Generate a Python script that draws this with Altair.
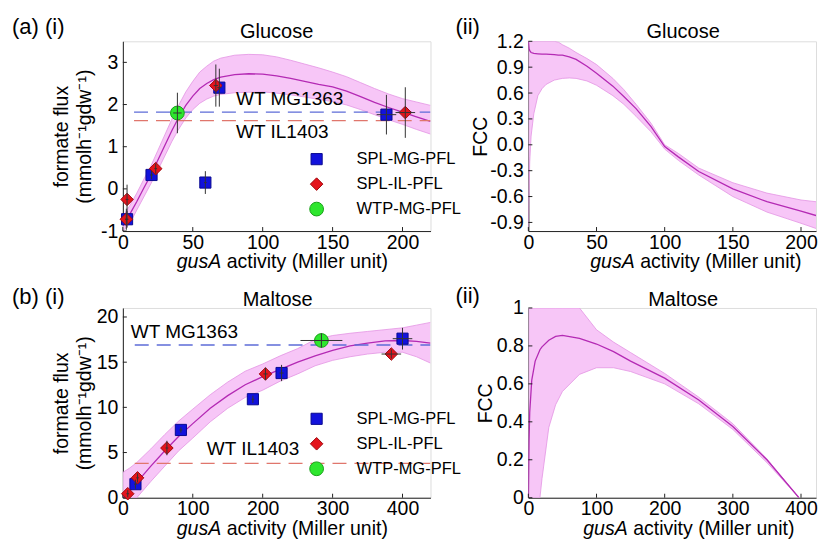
import altair as alt
import pandas as pd

FONT = "Liberation Sans"
BLUE, RED, GREEN = "#1212dc", "#e4141c", "#2ee62e"
BLUE_EDGE, RED_EDGE, GREEN_EDGE = "#0a0a90", "#a00a10", "#18a018"
BAND, BAND_EDGE, FIT = "#f6c0f6", "#e394e3", "#b42ab4"
REF_BLUE, REF_RED = "#5d6cd8", "#e0766c"
SERIES = ["SPL-MG-PFL", "SPL-IL-PFL", "WTP-MG-PFL"]

# ---------------- Glucose: formate flux fit ----------------
glc_x = [0, 5, 10, 15, 20, 25, 30, 35, 40, 45, 50, 55, 60, 65, 70, 80, 90, 100,
         110, 120, 130, 140, 150, 160, 170, 180, 190, 200, 210, 220]
glc_fit = [-0.88, -0.6, -0.3, 0.02, 0.33, 0.68, 1.03, 1.38, 1.7, 1.98, 2.2, 2.38,
           2.5, 2.59, 2.65, 2.71, 2.73, 2.72, 2.68, 2.62, 2.55, 2.48, 2.42, 2.32,
           2.19, 2.05, 1.93, 1.82, 1.71, 1.6]
glc_hi = [-0.66, -0.39, -0.1, 0.23, 0.54, 0.91, 1.28, 1.65, 1.99, 2.3, 2.55, 2.77,
          2.91, 3.03, 3.1, 3.17, 3.19, 3.18, 3.13, 3.05, 2.96, 2.87, 2.77, 2.66,
          2.52, 2.38, 2.25, 2.14, 2.06, 1.98]
glc_lo = [-1.0, -0.82, -0.5, -0.19, 0.12, 0.44, 0.78, 1.12, 1.42, 1.68, 1.88, 2.03,
          2.13, 2.2, 2.24, 2.28, 2.29, 2.3, 2.27, 2.23, 2.18, 2.12, 2.07, 1.99,
          1.88, 1.76, 1.64, 1.53, 1.41, 1.3]

# Glucose measured points
glc_series = ["SPL-MG-PFL"] * 5 + ["SPL-IL-PFL"] * 5 + ["WTP-MG-PFL"]
glc_px = [3, 20.5, 59, 69, 188.5, 2.5, 3, 23.5, 66.5, 202, 39]
glc_py = [-0.72, 0.33, 0.15, 2.40, 1.76, -0.72, -0.25, 0.48, 2.45, 1.81, 1.80]
glc_xerr = [1, 1, 1, 1.5, 7, 1, 1, 1, 1.5, 7, 3]
glc_yerr = [0.2, 0.1, 0.27, 0.45, 0.47, 0.25, 0.35, 0.12, 0.5, 0.6, 0.48]

# Glucose wild-type reference fluxes
glc_ref_names = ["WT MG1363", "WT IL1403"]
glc_ref_val = [1.82, 1.62]
glc_ref_x0 = [8, 8]
glc_ref_x1 = [220, 220]
glc_lab_x = [81, 81]
glc_lab_y = [2.0, 1.2]

# ---------------- Glucose: FCC ----------------
gfcc_x = [0, 0.5, 1, 2, 4, 7, 10, 13, 19, 22, 25, 30, 35, 43, 50, 62, 70, 79, 90,
          100, 110, 125, 150, 175, 200, 211]
gfcc_fit = [1.2, 1.12, 1.09, 1.07, 1.06, 1.055, 1.05, 1.05, 1.045, 1.04, 1.04, 1.02,
            0.99, 0.91, 0.83, 0.68, 0.56, 0.42, 0.21, -0.02, -0.14, -0.31, -0.51,
            -0.66, -0.77, -0.82]
gfcc_hi = [1.2, 1.2, 1.2, 1.2, 1.2, 1.2, 1.2, 1.2, 1.2, 1.19, 1.16, 1.12, 1.07,
           1.0, 0.93, 0.77, 0.64, 0.47, 0.25, 0.0, -0.1, -0.27, -0.44, -0.56,
           -0.64, -0.66]
gfcc_lo = [-1.0, -0.6, -0.2, 0.1, 0.36, 0.57, 0.65, 0.7, 0.75, 0.76, 0.77, 0.775,
           0.77, 0.74, 0.69, 0.57, 0.47, 0.33, 0.15, -0.05, -0.18, -0.35, -0.6,
           -0.78, -0.91, -0.97]

# ---------------- Maltose: formate flux fit ----------------
mal_x = [0, 10, 20, 40, 60, 80, 100, 125, 150, 175, 200, 225, 250, 275, 300, 325,
         350, 375, 400, 420, 440]
mal_fit = [0.0, 0.8, 1.7, 3.5, 5.2, 6.8, 8.2, 9.9, 11.3, 12.5, 13.4, 14.2, 15.0,
           15.7, 16.3, 16.8, 17.1, 17.35, 17.4, 17.3, 17.1]
mal_hi = [2.8, 3.3, 3.9, 5.4, 7.0, 8.5, 9.8, 11.4, 12.8, 14.0, 14.8, 15.7, 16.5,
          17.5, 17.95, 18.2, 18.4, 18.6, 18.8, 19.1, 19.4]
mal_lo = [0.0, 0.0, 0.0, 1.8, 3.5, 5.2, 6.6, 8.4, 9.9, 11.1, 11.9, 12.9, 13.7,
          14.6, 15.2, 15.6, 15.9, 16.1, 16.1, 15.6, 14.9]

mal_series = ["SPL-MG-PFL"] * 5 + ["SPL-IL-PFL"] * 5 + ["WTP-MG-PFL"]
mal_px = [18, 83, 186, 227, 400, 7, 21, 63, 204, 384, 284]
mal_py = [1.5, 7.5, 10.9, 13.8, 17.6, 0.44, 2.2, 5.5, 13.7, 15.9, 17.4]
mal_xerr = [2, 2, 2, 3, 14, 2, 2, 2, 3, 14, 30]
mal_yerr = [0.5, 0.3, 0.4, 0.9, 1.2, 0.4, 0.5, 0.8, 0.7, 0.5, 0.8]

mal_ref_names = ["WT MG1363", "WT IL1403"]
mal_ref_val = [16.9, 3.8]
mal_ref_x0 = [17, 17]
mal_ref_x1 = [440, 440]
mal_lab_x = [11.4, 120]
mal_lab_y = [17.7, 4.75]

# ---------------- Maltose: FCC ----------------
mfcc_x = [0, 1, 2, 5, 10, 17, 20, 30, 40, 50, 75, 100, 125, 150, 200, 250, 300,
          350, 397]
mfcc_fit = [0.0, 0.3, 0.45, 0.62, 0.72, 0.78, 0.795, 0.83, 0.85, 0.855, 0.84, 0.81,
            0.77, 0.72, 0.63, 0.515, 0.375, 0.2, 0.0]
mfcc_hi = [1.0, 1.0, 1.0, 1.0, 1.0, 1.0, 1.0, 1.0, 1.0, 1.0, 1.0, 0.885,
           0.82, 0.765, 0.655, 0.53, 0.39, 0.205, 0.0]
mfcc_lo = [0.0, 0.0, 0.0, 0.0, 0.0, 0.0, 0.1, 0.37, 0.49, 0.56, 0.65, 0.685,
           0.685, 0.665, 0.6, 0.495, 0.36, 0.185, 0.0]

# ---------------- tick values ----------------
glc_xticks = [0, 50, 100, 150, 200]
glc_yticks = [-1, 0, 1, 2, 3]
gfcc_yticks = [-0.9, -0.6, -0.3, 0, 0.3, 0.6, 0.9, 1.2]
mal_xticks = [0, 100, 200, 300, 400]
mal_yticks = [0, 5, 10, 15, 20]
mfcc_yticks = [0, 0.2, 0.4, 0.6, 0.8, 1]

FLUX_TITLE = ["formate flux", "(mmolh\u207b\u00b9gdw\u207b\u00b9)"]
LABEL_EXPR = "replace(datum.label, '\u2212', '-')"

SHAPE_SC = alt.Scale(domain=SERIES, range=["square", "diamond", "circle"])
FILL_SC = alt.Scale(domain=SERIES, range=[BLUE, RED, GREEN])
STROKE_SC = alt.Scale(domain=SERIES, range=[BLUE_EDGE, RED_EDGE, GREEN_EDGE])
SIZE_SC = alt.Scale(domain=SERIES, range=[125, 190, 160])


def text_layer(txt, x, y, size=19.5, align="left", baseline="alphabetic", style="normal"):
    return alt.Chart(pd.DataFrame({"t": [txt]})).mark_text(
        text=txt, font=FONT, fontSize=size, align=align, baseline=baseline,
        fontStyle=style, color="#000"
    ).encode(x=alt.value(x), y=alt.value(y))


def panel(xs, fit, lo, hi, xdom, ydom, W, H, xticks, yticks, ytitle, ext, tpad,
          title, title_x, title_y, plabel, plabel_x, plabel_y, xt_left, fmt):
    xsc = alt.Scale(domain=xdom, nice=False, zero=False)
    ysc = alt.Scale(domain=ydom, nice=False, zero=False)
    xax = alt.Axis(values=xticks, title=None, ticks=False, grid=False, labelPadding=2,
                   labelFont=FONT, labelFontSize=19.5, labelColor="#000",
                   domainColor="#222", labelExpr=LABEL_EXPR, format=fmt[0],
                   labelFlush=False, labelOverlap=False)
    yax = alt.Axis(values=yticks, title=ytitle, ticks=False, grid=False, labelPadding=5,
                   labelFont=FONT, labelFontSize=19.5, labelColor="#000",
                   domainColor="#222", labelExpr=LABEL_EXPR, format=fmt[1],
                   titleFont=FONT, titleFontSize=19.5, titleFontWeight="normal",
                   titleColor="#000", titleLineHeight=23, titlePadding=tpad,
                   minExtent=ext, maxExtent=ext, labelFlush=False, labelOverlap=False)
    X = alt.X("x:Q", scale=xsc, axis=xax)
    df = pd.DataFrame({"x": xs, "fit": fit, "lo": lo, "hi": hi})
    base = alt.Chart(df)
    band = base.mark_area(color=BAND, opacity=0.9, clip=True).encode(
        x=X, y=alt.Y("lo:Q", scale=ysc, axis=yax), y2="hi:Q")
    e1 = base.mark_line(color=BAND_EDGE, strokeWidth=0.8, clip=True).encode(
        x=X, y=alt.Y("lo:Q", scale=ysc, axis=yax))
    e2 = base.mark_line(color=BAND_EDGE, strokeWidth=0.8, clip=True).encode(
        x=X, y=alt.Y("hi:Q", scale=ysc, axis=yax))
    line = base.mark_line(color=FIT, strokeWidth=1.3, clip=True).encode(
        x=X, y=alt.Y("fit:Q", scale=ysc, axis=yax))
    xt = alt.Chart(pd.DataFrame({"x": xticks})).mark_rule(color="#222", strokeWidth=1).encode(
        x=X, y=alt.value(H), y2=alt.value(H - 4))
    yt = alt.Chart(pd.DataFrame({"v": yticks})).mark_rule(color="#222", strokeWidth=1).encode(
        y=alt.Y("v:Q", scale=ysc, axis=yax), x=alt.value(0), x2=alt.value(4))
    texts = [
        text_layer(title, title_x, title_y, size=20, align="center"),
        text_layer(plabel, plabel_x, plabel_y, size=22),
        text_layer("gusA", xt_left, H + 37, style="italic"),
        text_layer("activity (Miller unit)", xt_left + 50, H + 37),
    ]
    layers = [band, e1, e2, line, xt, yt]
    return layers, texts, xsc, xax, ysc, yax


def data_layers(xsc, xax, ysc, yax, series, px, py, xerr, yerr, ref_names, ref_val, ref_x0,
                ref_x1, lab_x, lab_y, leg_y0):
    pts = pd.DataFrame({"series": series, "x": px, "y": py, "xerr": xerr, "yerr": yerr})
    refs = pd.DataFrame({"name": ref_names, "y": ref_val, "x": ref_x0, "x1": ref_x1,
                         "lx": lab_x, "ly": lab_y})
    X = alt.X("x:Q", scale=xsc, axis=xax)
    Y = alt.Y("y:Q", scale=ysc, axis=yax)
    ref = alt.Chart(refs).mark_rule(strokeWidth=1.3, strokeDash=[14, 8], clip=True).encode(
        x=X, x2="x1:Q", y=Y,
        color=alt.Color("name:N", scale=alt.Scale(domain=ref_names, range=[REF_BLUE, REF_RED]),
                        legend=None))
    labs = alt.Chart(refs).mark_text(font=FONT, fontSize=19, align="left",
                                     baseline="alphabetic", color="#000").encode(
        x=alt.X("lx:Q", scale=xsc, axis=xax), y=alt.Y("ly:Q", scale=ysc, axis=yax),
        text="name:N")
    base = alt.Chart(pts)
    marks = base.mark_point(filled=True, opacity=1, strokeWidth=1, strokeOpacity=1).encode(
        x=X, y=Y,
        shape=alt.Shape("series:N", scale=SHAPE_SC, legend=None),
        fill=alt.Fill("series:N", scale=FILL_SC, legend=None),
        stroke=alt.Stroke("series:N", scale=STROKE_SC, legend=None),
        size=alt.Size("series:N", scale=SIZE_SC, legend=None))
    vbar = base.transform_calculate(y0="datum.y - datum.yerr", y1="datum.y + datum.yerr").mark_rule(
        color="#333", strokeWidth=1, clip=True).encode(
        x=X, y=alt.Y("y0:Q", scale=ysc, axis=yax), y2="y1:Q")
    hbar = base.transform_calculate(x0="datum.x - datum.xerr", x1="datum.x + datum.xerr").mark_rule(
        color="#333", strokeWidth=1, clip=True).encode(
        x=alt.X("x0:Q", scale=xsc, axis=xax), x2="x1:Q", y=Y)
    leg = pd.DataFrame({"series": SERIES, "py": [leg_y0 + 25 * i for i in range(3)]})
    lbase = alt.Chart(leg)
    lsym = lbase.mark_point(filled=True, opacity=1, strokeWidth=1).encode(
        x=alt.value(194), y=alt.Y("py:Q", scale=None),
        shape=alt.Shape("series:N", scale=SHAPE_SC, legend=None),
        fill=alt.Fill("series:N", scale=FILL_SC, legend=None),
        stroke=alt.Stroke("series:N", scale=STROKE_SC, legend=None),
        size=alt.Size("series:N", scale=SIZE_SC, legend=None))
    ltxt = lbase.mark_text(font=FONT, fontSize=16.5, align="left", baseline="middle",
                           color="#000").encode(
        x=alt.value(234), y=alt.Y("py:Q", scale=None), text="series:N")
    return [ref, labs, marks, vbar, hbar, lsym, ltxt]


W_L, W_R, H = 308, 288, 190

# (a)(i)
l, t, xsc, xax, ysc, yax = panel(glc_x, glc_fit, glc_lo, glc_hi, [0, 220], [-1, 3.5], W_L, H,
                                 glc_xticks, glc_yticks, FLUX_TITLE, 24, 4, "Glucose", 154, -3,
                                 "(a) (i)", -111, -7, 54, ["d", "d"])
d = data_layers(xsc, xax, ysc, yax, glc_series, glc_px, glc_py, glc_xerr, glc_yerr,
                glc_ref_names, glc_ref_val, glc_ref_x0, glc_ref_x1, glc_lab_x, glc_lab_y, 118)
a_i = alt.layer(*(l + d + t)).properties(width=W_L, height=H)

# (a)(ii)
l, t, xsc, xax, ysc, yax = panel(gfcc_x, gfcc_fit, gfcc_lo, gfcc_hi, [0, 211], [-1.0, 1.2], W_R, H,
                                 glc_xticks, gfcc_yticks, "FCC", 38, 0, "Glucose", 155, -3,
                                 "(ii)", -73, -7, 62, ["d", ".1f"])
a_ii = alt.layer(*(l + t)).properties(width=W_R, height=H)

# (b)(i)
l, t, xsc, xax, ysc, yax = panel(mal_x, mal_fit, mal_lo, mal_hi, [0, 440], [0, 21], W_L, H,
                                 mal_xticks, mal_yticks, FLUX_TITLE, 24, 4, "Maltose", 155, -2,
                                 "(b) (i)", -111, -4, 54, ["d", "d"])
d = data_layers(xsc, xax, ysc, yax, mal_series, mal_px, mal_py, mal_xerr, mal_yerr,
                mal_ref_names, mal_ref_val, mal_ref_x0, mal_ref_x1, mal_lab_x, mal_lab_y, 111)
b_i = alt.layer(*(l + d + t)).properties(width=W_L, height=H)

# (b)(ii)
l, t, xsc, xax, ysc, yax = panel(mfcc_x, mfcc_fit, mfcc_lo, mfcc_hi, [0, 422], [0, 1], W_R, H,
                                 mal_xticks, mfcc_yticks, "FCC", 33, 0, "Maltose", 155, -2,
                                 "(ii)", -73, -5, 55, ["d", "~g"])
b_ii = alt.layer(*(l + t)).properties(width=W_R, height=H)

chart = alt.concat(a_i, a_ii, b_i, b_ii, columns=2, bounds="flush", align="each",
                   spacing={"row": 77, "column": 98}).properties(
    padding={"left": 3, "top": 7, "right": 0, "bottom": 0}
).configure_view(stroke=None).configure(background="white")

chart.save("out.html", embed_options={"renderer": "svg", "actions": False})
